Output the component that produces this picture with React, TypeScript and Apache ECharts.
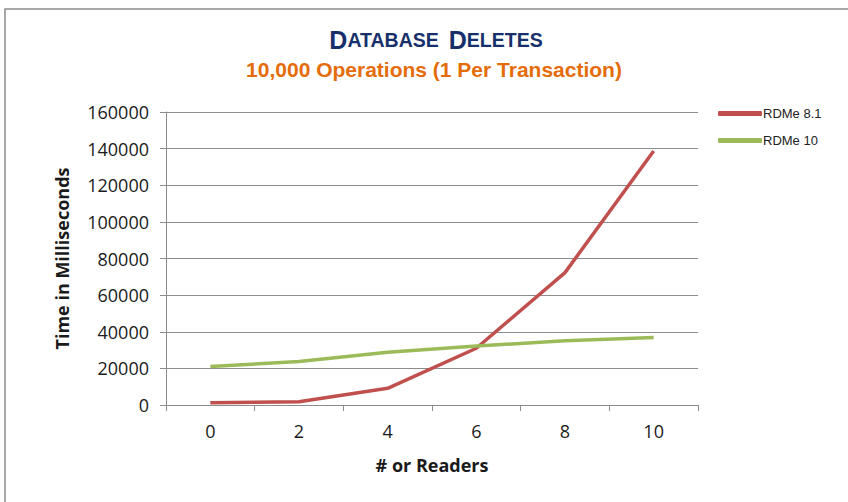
import React, { useEffect, useRef } from "react";
import * as echarts from "echarts";

const categories = ["0", "2", "4", "6", "8", "10"];
const rdme81 = [1200, 1800, 9100, 31000, 72300, 138700];
const rdme10 = [21000, 23700, 28800, 32200, 35100, 36800];
const seriesNames = ["RDMe 8.1", "RDMe 10"];

export default function App() {
  const ref = useRef<HTMLDivElement>(null);
  useEffect(() => {
    document.body.style.margin = "0";
    const chart = echarts.init(ref.current!, null, { renderer: "svg" });
    const narrow = "'Liberation Sans Narrow', 'Arial Narrow', Arial, sans-serif";
    const body = "'Open Sans', Lato, sans-serif";
    chart.setOption({
      animation: false,
      backgroundColor: "#fff",
      graphic: [
        {
          type: "rect",
          shape: { x: 5, y: 9, width: 860, height: 520 },
          style: { fill: "none", stroke: "#8c8c8c", lineWidth: 1.5 },
          silent: true,
        },
      ],
      title: [
        {
          text: "{b|D}{s|ATABASE}  {b|D}{s|ELETES}",
          left: 431,
          textAlign: "center",
          top: 22,
          textStyle: {
            rich: {
              b: { fontFamily: narrow, fontWeight: "bold", fontSize: 25, color: "#17306b" },
              s: { fontFamily: narrow, fontWeight: "bold", fontSize: 19.5, color: "#17306b" },
            },
          },
        },
        {
          text: "10,000 Operations (1 Per Transaction)",
          left: 429,
          textAlign: "center",
          top: 54,
          textStyle: { fontFamily: narrow, fontWeight: "bold", fontSize: 21, color: "#e46c0a" },
        },
      ],
      legend: {
        orient: "vertical",
        left: 713,
        top: 102,
        itemGap: 14,
        itemWidth: 44,
        itemHeight: 5,
        icon: "roundRect",
        textStyle: { fontFamily: "'Liberation Sans', Arial, sans-serif", fontSize: 13, color: "#222", padding: [0, 0, 0, -4] },
        data: seriesNames,
      },
      grid: { left: 166, right: 150, top: 112, bottom: 97, containLabel: false },
      xAxis: {
        type: "category",
        data: categories,
        boundaryGap: true,
        name: "# or Readers",
        nameLocation: "middle",
        nameGap: 51,
        nameTextStyle: { fontFamily: body, fontWeight: "bold", fontSize: 18, color: "#1a1a1a" },
        axisLine: { lineStyle: { color: "#8c8c8c", width: 1 } },
        axisTick: { show: true, length: 6, lineStyle: { color: "#8c8c8c" } },
        axisLabel: { fontFamily: body, fontSize: 18, color: "#1a1a1a", margin: 17 },
      },
      yAxis: {
        type: "value",
        min: 0,
        max: 160000,
        interval: 20000,
        name: "Time in Milliseconds",
        nameLocation: "middle",
        nameGap: 95,
        nameTextStyle: { fontFamily: body, fontWeight: "bold", fontSize: 18, color: "#1a1a1a" },
        axisLine: { show: true, lineStyle: { color: "#8c8c8c", width: 1 } },
        axisTick: { show: true, length: 6, lineStyle: { color: "#8c8c8c" } },
        axisLabel: {
          fontFamily: body,
          fontSize: 18,
          color: "#1a1a1a",
          margin: 17,
          formatter: (v: number) => String(v),
        },
        splitLine: { lineStyle: { color: "#8c8c8c", width: 1 } },
      },
      series: [
        {
          name: seriesNames[0],
          type: "line",
          data: rdme81,
          symbol: "none",
          lineStyle: { color: "#c0504d", width: 3.5 },
          itemStyle: { color: "#c0504d" },
        },
        {
          name: seriesNames[1],
          type: "line",
          data: rdme10,
          symbol: "none",
          lineStyle: { color: "#9bbb59", width: 3.5 },
          itemStyle: { color: "#9bbb59" },
        },
      ],
    });
    return () => chart.dispose();
  }, []);
  return <div ref={ref} style={{ width: 848, height: 502 }} />;
}
